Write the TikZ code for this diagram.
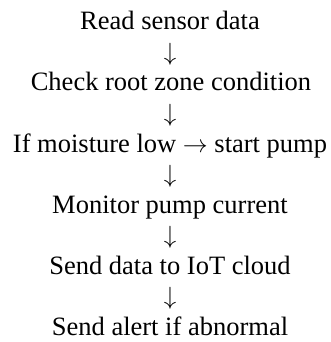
\documentclass[tikz,border=0pt]{standalone}
\usepackage{fontspec}
\setmainfont{Liberation Serif}

\begin{document}
\begin{tikzpicture}[x=1pt,y=1pt,every node/.style={anchor=base,inner sep=0pt,font=\fontsize{26.5}{30}\selectfont}]
            \useasboundingbox (0,0) rectangle (331,-342);
            \node (read) at (170,-30){Read sensor data};
            \node (arr1) at (170,-60.5){$\downarrow$};
            \node (check) at (171,-91){Check root zone condition};
            \node (arr2) at (170,-121.5){$\downarrow$};
            \node (pump) at (170,-152){If moisture low $\rightarrow$ start pump};
            \node (arr3) at (170,-182.5){$\downarrow$};
            \node (monitor) at (170,-213){Monitor pump current};
            \node (arr4) at (170,-243.5){$\downarrow$};
            \node (cloud) at (170,-274){Send data to IoT cloud};
            \node (arr5) at (170,-304.5){$\downarrow$};
            \node (alert) at (170,-335){Send alert if abnormal};
        \end{tikzpicture}
\end{document}
